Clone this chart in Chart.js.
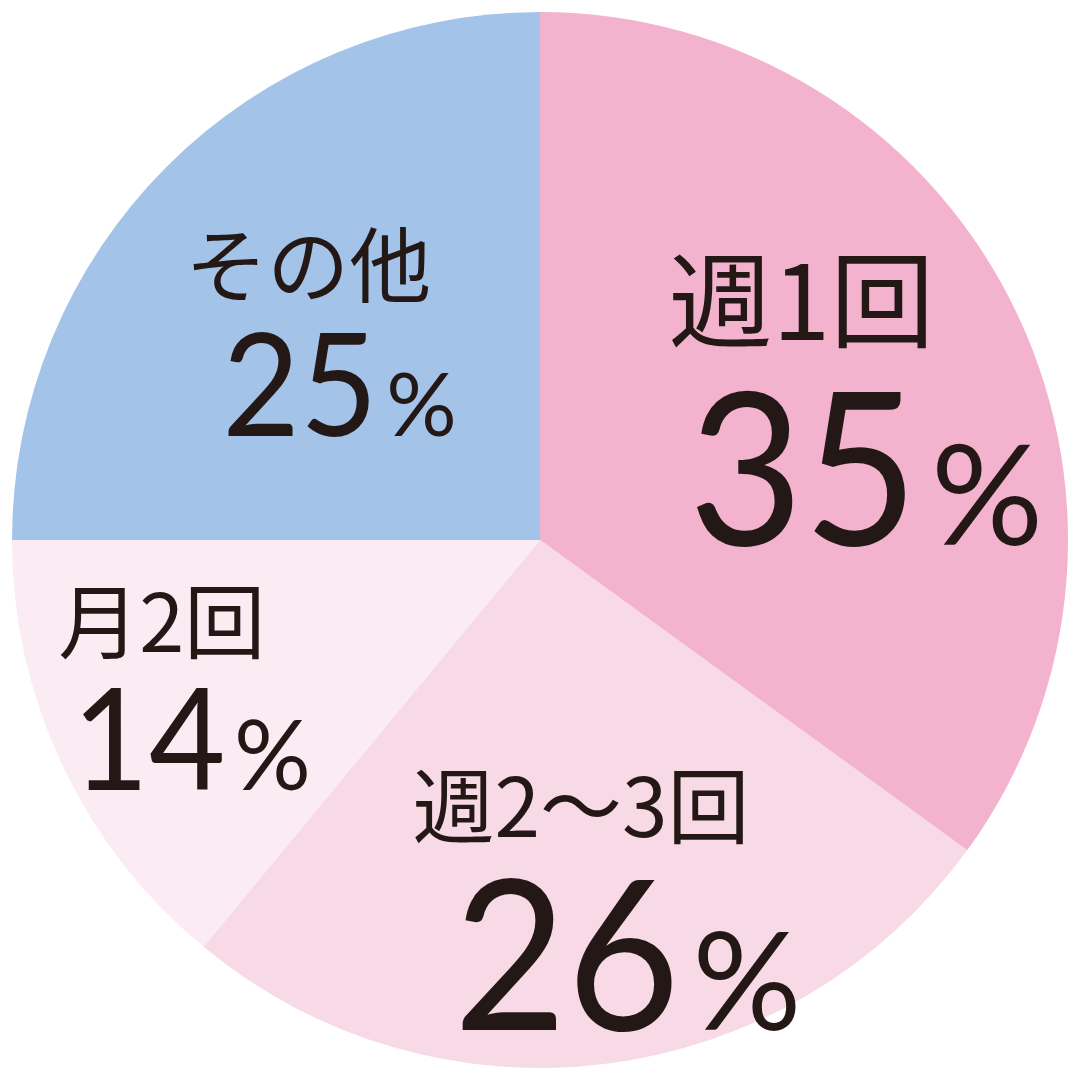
<!DOCTYPE html>
<html>
<head>
<meta charset="utf-8">
<script src="https://cdn.jsdelivr.net/npm/chart.js@4/dist/chart.umd.min.js"></script>
<style>
  html, body { margin: 0; padding: 0; background: #fff; }
  canvas { display: block; }
</style>
</head>
<body>
<canvas id="pie" width="1080" height="1080"></canvas>
<script>
// data
var categories = ['週1回', '週2〜3回', '月2回', 'その他'];
var shares = [35, 26, 14, 25];
var sliceColors = ['#F3B3CF', '#F8DAE7', '#FBEBF2', '#A3C4E8'];

// label placement per slice (fraction of radius along mid angle + offsets)
var labelStyle = [
  { f: 0.645, lx: -175, ly: -85, ls: 104, nx: -155, nb: 160, ns: 213, ps: 140 },
  { f: 0.686, lx: -173, ly: -94, ls: 82, nx: -132, nb: 131, ns: 210, ps: 136 },
  { f: 0.734, lx: -131, ly: -84, ls: 81, nx: -117, nb: 85, ns: 142, ps: 96 },
  { f: 0.583, lx: -137, ly: -57, ls: 82, nx: -100, nb: 114, ns: 144, ps: 88 }
];

var textColor = '#231815';

var labelPlugin = {
  id: 'sliceLabels',
  afterDatasetsDraw: function(chart) {
    var ctx = chart.ctx;
    var meta = chart.getDatasetMeta(0);
    meta.data.forEach(function(arc, i) {
      var st = labelStyle[i];
      var p = arc.getProps(['x', 'y', 'startAngle', 'endAngle', 'outerRadius'], true);
      var mid = (p.startAngle + p.endAngle) / 2;
      var ax = p.x + Math.cos(mid) * p.outerRadius * st.f;
      var ay = p.y + Math.sin(mid) * p.outerRadius * st.f;

      ctx.save();
      ctx.fillStyle = textColor;
      ctx.textAlign = 'left';

      ctx.textBaseline = 'middle';
      ctx.font = '400 ' + st.ls + 'px "Noto Sans CJK JP"';
      ctx.fillText(categories[i], ax + st.lx, ay + st.ly);

      ctx.textBaseline = 'alphabetic';
      var num = String(shares[i]);
      ctx.font = '400 ' + st.ns + 'px Lato';
      var sx = 0.93;
      var w = ctx.measureText(num).width * sx;
      ctx.save();
      ctx.translate(ax + st.nx, ay + st.nb);
      ctx.scale(sx, 1);
      ctx.fillText(num, 0, 0);
      ctx.restore();
      ctx.font = '400 ' + st.ps + 'px Lato';
      ctx.fillText('%', ax + st.nx + w + st.ns * 0.06, ay + st.nb);
      ctx.restore();
    });
  }
};

new Chart(document.getElementById('pie'), {
  type: 'pie',
  data: {
    labels: categories,
    datasets: [{
      data: shares,
      backgroundColor: sliceColors,
      borderWidth: 0
    }]
  },
  options: {
    responsive: false,
    animation: false,
    devicePixelRatio: 1,
    layout: { padding: 12 },
    plugins: {
      legend: { display: false },
      tooltip: { enabled: false }
    }
  },
  plugins: [labelPlugin]
});
</script>
</body>
</html>
